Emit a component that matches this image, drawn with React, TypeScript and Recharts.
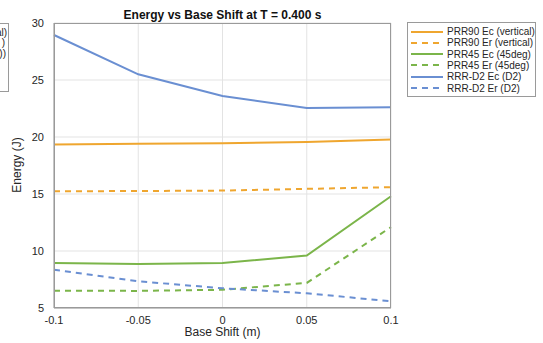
import React from "react";
import { LineChart, Line, XAxis, YAxis, CartesianGrid } from "recharts";

const shifts = [-0.1, -0.05, 0, 0.05, 0.1];
const prr90Ec = [19.35, 19.4, 19.45, 19.57, 19.77];
const prr90Er = [15.24, 15.26, 15.3, 15.45, 15.6];
const prr45Ec = [8.95, 8.85, 8.95, 9.6, 14.8];
const prr45Er = [6.52, 6.5, 6.6, 7.2, 12.1];
const rrrEc = [28.95, 25.5, 23.6, 22.55, 22.6];
const rrrEr = [8.36, 7.34, 6.73, 6.29, 5.59];

const xTicks = [-0.1, -0.05, 0, 0.05, 0.1];
const yTicks = [5, 10, 15, 20, 25, 30];

const ORANGE = "#EFA62F";
const GREEN = "#7BB54A";
const BLUE = "#6A8FD2";

const series = [
  { key: "prr90Ec", name: "PRR90 Ec (vertical)", color: ORANGE, dash: undefined },
  { key: "prr90Er", name: "PRR90 Er (vertical)", color: ORANGE, dash: "6 5" },
  { key: "prr45Ec", name: "PRR45 Ec (45deg)", color: GREEN, dash: undefined },
  { key: "prr45Er", name: "PRR45 Er (45deg)", color: GREEN, dash: "6 5" },
  { key: "rrrEc", name: "RRR-D2 Ec (D2)", color: BLUE, dash: undefined },
  { key: "rrrEr", name: "RRR-D2 Er (D2)", color: BLUE, dash: "6 5" },
];

const data = shifts.map((x, i) => ({
  x,
  prr90Ec: prr90Ec[i],
  prr90Er: prr90Er[i],
  prr45Ec: prr45Ec[i],
  prr45Er: prr45Er[i],
  rrrEc: rrrEc[i],
  rrrEr: rrrEr[i],
}));

const font = "'Liberation Sans', Arial, sans-serif";
const fmt = (v: number) => (v === 0 ? "0" : String(v));

// plot box in page pixels
const PL = 54, PR = 391, PT = 23, PB = 308;

export default function App() {
  return (
    <div style={{ position: "fixed", left: 0, top: 0, width: 543, height: 343, background: "#fff", overflow: "hidden", fontFamily: font }}>
      <LineChart
        width={543}
        height={343}
        data={data}
        margin={{ top: PT, right: 543 - PR, left: 14, bottom: 15 }}
      >
        <CartesianGrid stroke="#e3e3e3" strokeWidth={1} />
        <XAxis
          dataKey="x"
          type="number"
          domain={[-0.1, 0.1]}
          ticks={xTicks}
          tickFormatter={fmt}
          height={20}
          tickLine={false}
          axisLine={{ stroke: "#9a9a9a" }}
          tick={{ fill: "#262626", fontSize: 11, fontFamily: font }}
          tickMargin={2}
        />
        <YAxis
          type="number"
          domain={[5, 30]}
          ticks={yTicks}
          width={40}
          tickLine={false}
          axisLine={{ stroke: "#9a9a9a" }}
          tick={{ fill: "#262626", fontSize: 11, fontFamily: font }}
          tickMargin={4}
        />
        {series.map((s) => (
          <Line
            key={s.key}
            dataKey={s.key}
            name={s.name}
            stroke={s.color}
            strokeWidth={2}
            strokeDasharray={s.dash}
            dot={false}
            type="linear"
            isAnimationActive={false}
          />
        ))}
      </LineChart>

      {/* axis box */}
      <div style={{ position: "absolute", left: PL, top: PT, width: PR - PL, height: PB - PT, border: "1px solid #9a9a9a", boxSizing: "border-box", pointerEvents: "none" }} />

      <div style={{ position: "absolute", left: PL, width: PR - PL, top: 8, textAlign: "center", fontSize: 12, fontWeight: "bold", color: "#111" }}>
        Energy vs Base Shift at T = 0.400 s
      </div>
      <div style={{ position: "absolute", left: PL, width: PR - PL, top: 325, textAlign: "center", fontSize: 12, color: "#262626", lineHeight: "14px" }}>
        Base Shift (m)
      </div>
      <div style={{ position: "absolute", left: 17, top: 165, transform: "translate(-50%, -50%) rotate(-90deg)", fontSize: 12, color: "#262626", whiteSpace: "nowrap" }}>
        Energy (J)
      </div>

      {/* clipped legend of neighbouring panel */}
      <div style={{ position: "absolute", left: -40, top: 23, width: 49, height: 69, border: "1px solid #9a9a9a", boxSizing: "border-box", background: "#fff", fontSize: 10, color: "#262626" }}>
        <div style={{ position: "absolute", right: 1, top: 3 }}>al)</div>
        <div style={{ position: "absolute", right: 3, top: 13 }}>)</div>
        <div style={{ position: "absolute", right: 2, top: 24 }}>))</div>
      </div>

      {/* legend */}
      <div style={{ position: "absolute", left: 407, top: 22, width: 129, height: 75, border: "1px solid #9a9a9a", boxSizing: "border-box", background: "#fff" }}>
        {series.map((s, i) => (
          <div key={s.key} style={{ position: "absolute", left: 3, top: 3 + i * 11.3, height: 11, display: "flex", alignItems: "center" }}>
            <svg width={32} height={4} style={{ display: "block" }}>
              <line x1={0} y1={2} x2={32} y2={2} stroke={s.color} strokeWidth={2} strokeDasharray={s.dash} />
            </svg>
            <span style={{ marginLeft: 4, fontSize: 10, color: "#262626", whiteSpace: "nowrap" }}>{s.name}</span>
          </div>
        ))}
      </div>
    </div>
  );
}
